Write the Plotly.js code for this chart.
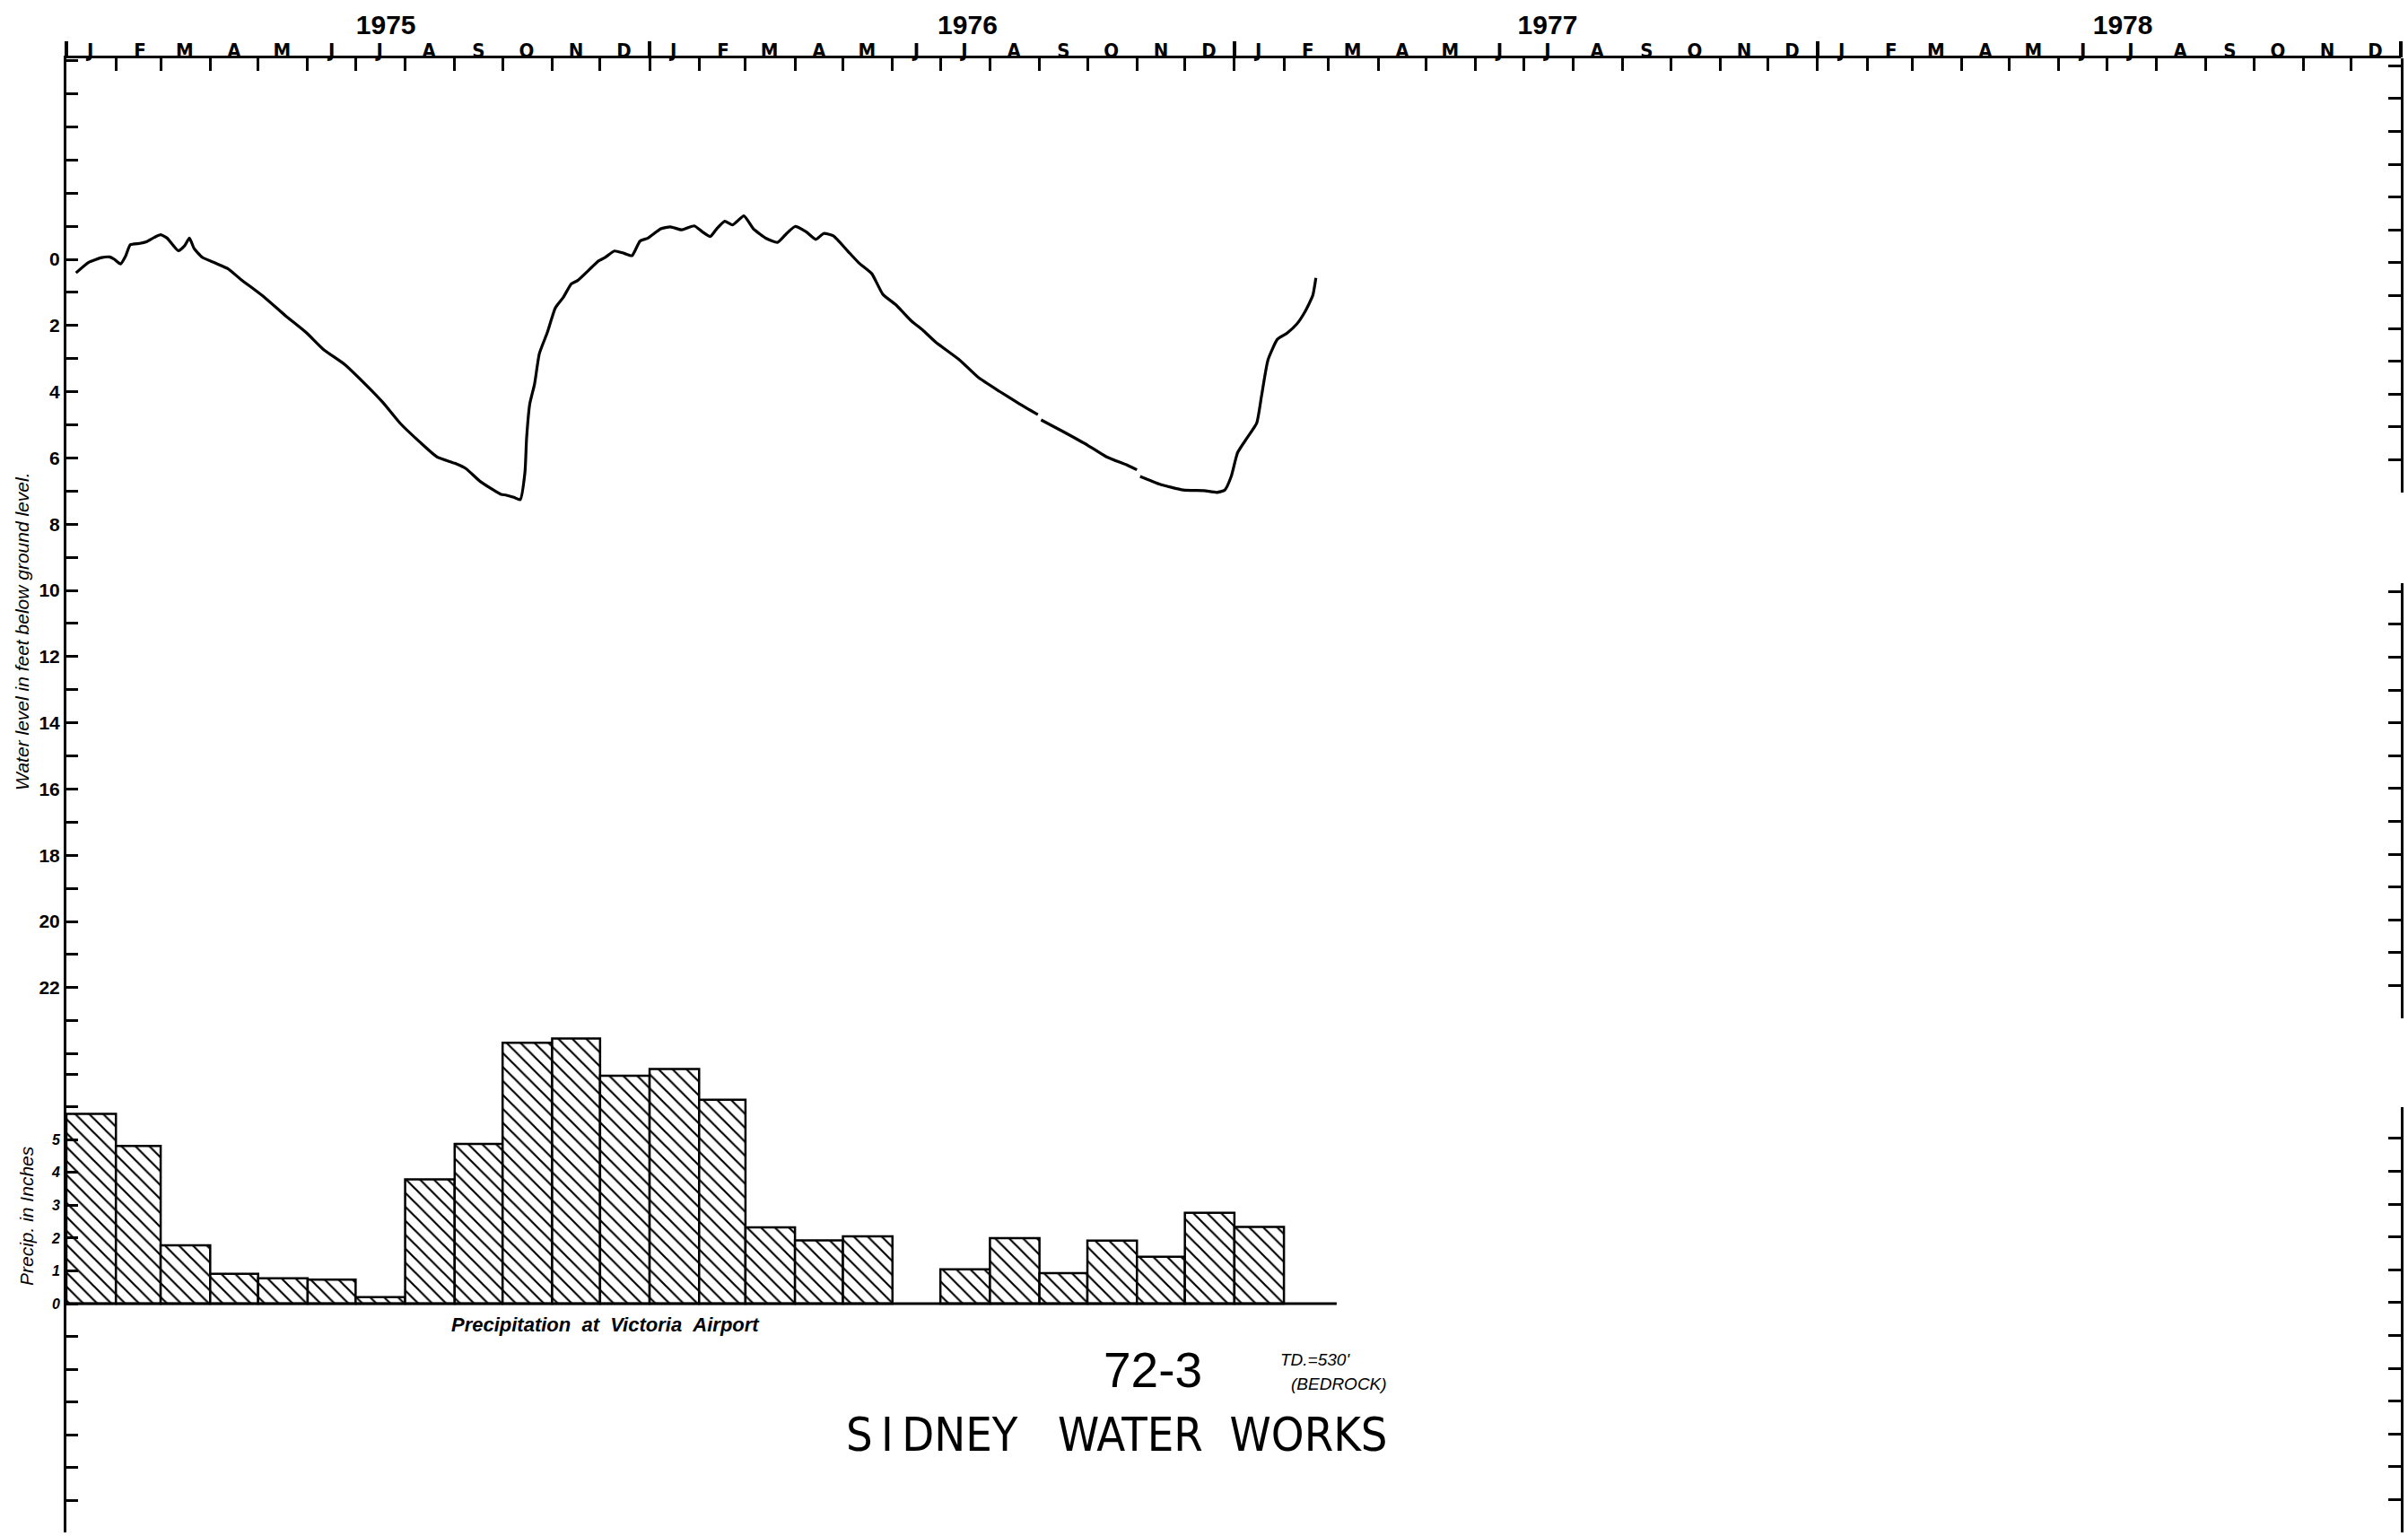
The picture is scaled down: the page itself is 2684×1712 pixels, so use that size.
<!DOCTYPE html>
<html><head><meta charset="utf-8">
<script src="https://cdn.plot.ly/plotly-3.0.1.min.js"></script>
<style>html,body{margin:0;padding:0;background:#fff}#chart{width:2684px;height:1712px}</style>
</head><body><div id="chart"></div>
<script>
// ---------- data ----------
const monthLetters = ['J','F','M','A','M','J','J','A','S','O','N','D'];
const years = ['1975','1976','1977','1978'];
const yearLabelDates = ['1975-07-20','1976-07-18','1977-07-16','1978-07-11'];
const waterLabelValues = [0,2,4,6,8,10,12,14,16,18,20,22];
const precipLabelValues = [0,1,2,3,4,5];

const precipMonths = ['1975-01','1975-02','1975-03','1975-04','1975-05','1975-06','1975-07','1975-08','1975-09','1975-10','1975-11','1975-12',
  '1976-01','1976-02','1976-03','1976-04','1976-05','1976-06','1976-07','1976-08','1976-09','1976-10','1976-11','1976-12','1977-01'];
const precipInches = [5.79,4.81,1.78,0.91,0.77,0.73,0.2,3.79,4.87,7.96,8.09,6.95,
  7.16,6.22,2.33,1.93,2.05,null,1.05,2.0,0.93,1.92,1.43,2.77,2.34];
const precipBaselineDates = ['1975-01-01','1977-03-06'];
const precipBaselineValues = [0,0];

const waterDates = ['1975-01-07','1975-01-15','1975-01-23','1975-01-28','1975-01-31','1975-02-04','1975-02-07','1975-02-10','1975-02-16','1975-02-20',
  '1975-02-25','1975-03-01','1975-03-05','1975-03-12','1975-03-16','1975-03-19','1975-03-22','1975-03-27','1975-04-04','1975-04-12',
  '1975-04-20','1975-05-05','1975-05-18','1975-05-31','1975-06-11','1975-06-24','1975-07-07','1975-07-18','1975-07-29','1975-08-10',
  '1975-08-21','1975-09-01','1975-09-08','1975-09-17','1975-09-30','1975-10-03','1975-10-08','1975-10-12','1975-10-15','1975-10-16',
  '1975-10-18','1975-10-21','1975-10-24','1975-10-29','1975-11-03','1975-11-08','1975-11-13','1975-11-17','1975-11-26','1975-11-30',
  '1975-12-04','1975-12-10','1975-12-16','1975-12-21','1975-12-26','1975-12-31','1976-01-08','1976-01-14','1976-01-21','1976-01-29',
  '1976-02-03','1976-02-08','1976-02-12','1976-02-17','1976-02-22','1976-02-29','1976-03-06','1976-03-14','1976-03-21','1976-03-26',
  '1976-04-01','1976-04-08','1976-04-14','1976-04-19','1976-04-25','1976-05-04','1976-05-11','1976-05-19','1976-05-26','1976-06-03',
  '1976-06-13','1976-06-20','1976-06-28','1976-07-13','1976-07-25','1976-08-07','1976-08-19','1976-08-31','1976-09-01','1976-09-02',
  '1976-09-16','1976-10-01','1976-10-13','1976-10-26','1976-11-01','1976-11-02','1976-11-03','1976-11-15','1976-11-30','1976-12-13',
  '1976-12-21','1976-12-26','1976-12-30','1977-01-03','1977-01-09','1977-01-15','1977-01-18','1977-01-22','1977-01-28','1977-02-03',
  '1977-02-09','1977-02-14','1977-02-19','1977-02-21'];
const waterDepth = [0.41,0.09,-0.05,-0.07,0.00,0.14,-0.09,-0.44,-0.48,-0.53,
  -0.66,-0.74,-0.64,-0.26,-0.41,-0.64,-0.32,-0.06,0.11,0.28,
  0.60,1.15,1.70,2.21,2.73,3.17,3.77,4.32,4.96,5.51,
  5.97,6.16,6.32,6.71,7.10,7.12,7.19,7.26,6.43,5.42,
  4.37,3.77,2.85,2.21,1.47,1.15,0.74,0.64,0.23,0.05,
  -0.05,-0.25,-0.18,-0.11,-0.55,-0.64,-0.92,-0.98,-0.89,-1.01,
  -0.83,-0.69,-0.92,-1.15,-1.04,-1.31,-0.92,-0.63,-0.51,-0.74,
  -0.99,-0.83,-0.60,-0.78,-0.71,-0.25,0.11,0.43,1.06,1.37,
  1.87,2.14,2.50,3.04,3.58,3.99,4.35,4.69,null,4.85,
  5.21,5.61,5.97,6.22,6.36,null,6.56,6.79,6.97,6.99,
  7.04,6.97,6.56,5.84,5.39,4.94,4.12,3.04,2.41,2.23,
  1.96,1.60,1.10,0.56];

// ---------- geometry / helpers ----------
const W = 2684, H = 1712;
const M = {l: 74, r: 8, t: 65, b: 4};
const PW = W - M.l - M.r, PH = H - M.t - M.b;
const px = x => (x - M.l) / PW;
const py = y => (M.t + PH - y) / PH;

function pad(n){return (n<10?'0':'')+n;}
const monthStarts = [], monthMids = [], monthText = [];
for (let y = 1975; y <= 1978; y++) {
  for (let m = 1; m <= 12; m++) {
    monthStarts.push(y + '-' + pad(m) + '-01');
    monthMids.push(y + '-' + pad(m) + '-16');
    monthText.push(monthLetters[m-1]);
  }
}
monthStarts.push('1979-01-01');
const yearStarts = ['1975-01-01','1976-01-01','1977-01-01','1978-01-01','1979-01-01'];

const barX = precipMonths.map(m => m + '-01');
const barW = precipMonths.map(m => {
  const [yy, mm] = m.split('-').map(Number);
  return (Date.UTC(yy, mm, 1) - Date.UTC(yy, mm - 1, 1));
});

const waterTickVals = []; for (let v = -6; v <= 24; v++) waterTickVals.push(v);
const waterTickText = waterTickVals.map(v => waterLabelValues.includes(v) ? String(v) : '');
const precipTickVals = []; for (let v = -6; v <= 7; v++) precipTickVals.push(v);
const precipTickText = precipTickVals.map(v => precipLabelValues.includes(v) ? String(v) : '');

const narrow = "'Liberation Sans Narrow', 'DejaVu Sans Condensed', 'Liberation Sans', sans-serif";
const sans = "'Liberation Sans', 'DejaVu Sans', sans-serif";

// right-hand bracket scales (pixel extents)
const brackets = [[65, 549], [650, 1135], [1234, 1708]];
const bracketUnit = 36.6;

const traces = [
  {type: 'bar', x: barX, y: precipInches, yaxis: 'y2', offset: 0, width: barW,
   marker: {color: 'white', line: {color: 'black', width: 2.5},
            pattern: {shape: '\\', fgcolor: 'black', bgcolor: 'white', size: 11, solidity: 0.2}},
   hoverinfo: 'skip', showlegend: false},
  {type: 'scatter', mode: 'lines', x: precipBaselineDates, y: precipBaselineValues, yaxis: 'y2',
   line: {color: 'black', width: 3}, hoverinfo: 'skip', showlegend: false},
  {type: 'scatter', mode: 'lines', x: waterDates, y: waterDepth, connectgaps: false,
   line: {color: 'black', width: 3.2, shape: 'spline', smoothing: 0.5}, hoverinfo: 'skip', showlegend: false}
];
// carriers so the extra axes are drawn (no visible marks)
['x2','x3','x4'].forEach(a => traces.push({type:'scatter', mode:'markers', x:[waterDates[0]], y:[null], xaxis:a, yaxis:'y', hoverinfo:'skip', showlegend:false}));
['y4','y5','y6'].forEach(a => traces.push({type:'scatter', mode:'markers', x:[waterDates[0]], y:[null], xaxis:'x', yaxis:a, hoverinfo:'skip', showlegend:false}));

function note(x, y, text, font, extra) {
  return Object.assign({xref:'paper', yref:'paper', x: px(x), y: py(y), text: text, showarrow: false,
    xanchor: 'center', yanchor: 'middle', font: Object.assign({color: 'black'}, font)}, extra || {});
}

const layout = {
  width: W, height: H, margin: M,
  paper_bgcolor: 'white', plot_bgcolor: 'rgba(0,0,0,0)',
  showlegend: false,
  xaxis: {type: 'date', range: ['1975-01-01','1979-01-01'], side: 'top', anchor: 'y',
    showline: true, linecolor: 'black', linewidth: 3, ticks: 'inside', ticklen: 14, tickwidth: 3, tickcolor: 'black',
    tickmode: 'array', tickvals: monthStarts, showticklabels: false, showgrid: false, zeroline: false},
  xaxis2: {type: 'date', range: ['1975-01-01','1979-01-01'], overlaying: 'x', side: 'top', anchor: 'y',
    showline: false, ticks: '', tickmode: 'array', tickvals: monthMids, ticktext: monthText, ticklabelstandoff: -4,
    tickfont: {family: narrow, size: 22, color: 'black', weight: 700}, showgrid: false, zeroline: false},
  xaxis3: {type: 'date', range: ['1975-01-01','1979-01-01'], overlaying: 'x', side: 'top', anchor: 'y',
    showline: false, ticks: 'outside', ticklen: 14, tickcolor: 'rgba(0,0,0,0)', tickmode: 'array',
    tickvals: yearLabelDates, ticktext: years,
    tickfont: {family: sans, size: 30, color: 'black', weight: 700}, showgrid: false, zeroline: false},
  xaxis4: {type: 'date', range: ['1975-01-01','1979-01-01'], overlaying: 'x', side: 'top', anchor: 'y',
    showline: false, ticks: 'outside', ticklen: 18, tickwidth: 3.5, tickcolor: 'black', tickmode: 'array',
    tickvals: yearStarts, showticklabels: false, showgrid: false, zeroline: false},
  yaxis: {range: [(H - M.b - 289) / 36.9, (M.t - 289) / 36.9], anchor: 'x', side: 'left',
    showline: true, linecolor: 'black', linewidth: 3, ticks: 'inside', ticklen: 13, tickwidth: 3, tickcolor: 'black',
    tickmode: 'array', tickvals: waterTickVals, ticktext: waterTickText,
    tickfont: {family: sans, size: 21, color: 'black', weight: 700}, showgrid: false, zeroline: false},
  yaxis2: {range: [-(H - M.b - 1453) / 36.53, (1453 - M.t) / 36.53], overlaying: 'y', anchor: 'x', side: 'left',
    showline: false, ticks: 'inside', ticklen: 13, tickwidth: 3, tickcolor: 'black',
    tickmode: 'array', tickvals: precipTickVals, ticktext: precipTickText, ticklabelstandoff: 6,
    tickfont: {family: sans, size: 16, color: 'black', style: 'italic', weight: 700}, showgrid: false, zeroline: false},
  annotations: [
    note(24, 704, 'Water level in feet below ground level.', {family: sans, size: 21, style: 'italic'}, {textangle: -90}),
    note(29, 1355, 'Precip. in Inches', {family: sans, size: 21, style: 'italic'}, {textangle: -90}),
    note(501, 1476, 'Precipitation&nbsp;&nbsp;at&nbsp;&nbsp;Victoria&nbsp;&nbsp;Airport', {family: sans, size: 22, style: 'italic', weight: 600}, {xanchor: 'left'}),
    note(1285, 1527, '72-3', {family: sans, size: 55}),
    note(1425, 1515, "TD.=530'", {family: sans, size: 19, style: 'italic'}, {xanchor: 'left'}),
    note(1437, 1542, '(BEDROCK)', {family: sans, size: 19, style: 'italic'}, {xanchor: 'left'}),
    note(1245, 1599, 'S\u2009I\u2009DNEY\u00A0\u00A0\u00A0WATER\u00A0\u00A0WORKS', {family: narrow, size: 52})
  ]
};

brackets.forEach((b, i) => {
  const len = (b[1] - b[0]) / bracketUnit;
  const tv = []; for (let v = 0; v <= len + 1e-6; v++) tv.push(v);
  layout['yaxis' + (4 + i)] = {
    domain: [Math.max(0, py(b[1])), Math.min(1, py(b[0]))], range: [0, len], anchor: 'x', side: 'right',
    showline: true, linecolor: 'black', linewidth: 3, ticks: 'inside', ticklen: 14, tickwidth: 3, tickcolor: 'black',
    tickmode: 'array', tickvals: tv, showticklabels: false, showgrid: false, zeroline: false
  };
});

Plotly.newPlot('chart', traces, layout, {staticPlot: true, displayModeBar: false});
</script>
</body></html>
